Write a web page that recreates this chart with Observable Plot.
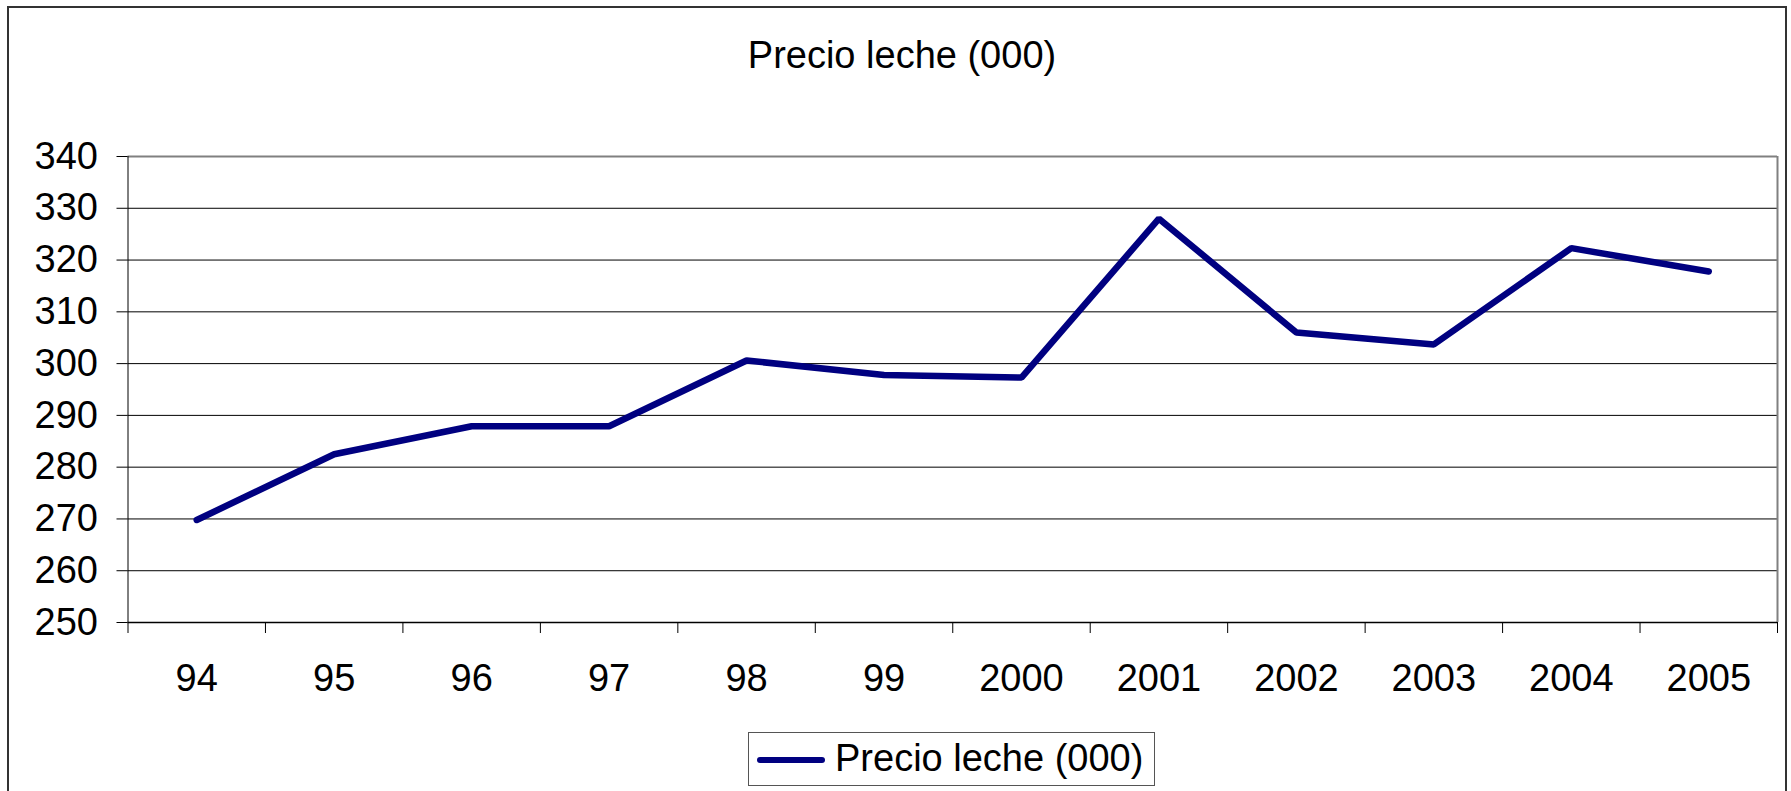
<!DOCTYPE html>
<html>
<head>
<meta charset="utf-8">
<script src="https://cdn.jsdelivr.net/npm/d3@7"></script>
<script src="https://cdn.jsdelivr.net/npm/@observablehq/plot@0.6"></script>
<style>
  html, body { margin: 0; padding: 0; background: #fff; }
  body { width: 1791px; height: 791px; position: relative; overflow: hidden; font-family: "Liberation Sans", Arial, sans-serif; }
  #frame { position: absolute; left: 7px; top: 6px; width: 1780px; height: 900px; border: 2px solid #333; box-sizing: border-box; pointer-events: none; }
  #chart { position: absolute; left: 0; top: 0; }
  #title { position: absolute; left: 600px; width: 604px; top: 36px; text-align: center; font-size: 38px; line-height: 38px; color: #000; white-space: nowrap; }
  #legend { position: absolute; left: 748px; top: 732px; width: 407px; height: 54px; border: 1.5px solid #555; box-sizing: border-box; background: #fff; }
  #legend .sw { position: absolute; left: 8px; top: 24px; width: 68px; height: 6px; border-radius: 3px; background: #000080; }
  #legend .lb { position: absolute; left: 86px; top: 6px; font-size: 38px; line-height: 38px; color: #000; white-space: nowrap; }
</style>
</head>
<body>
<div id="chart"></div>
<div id="title"></div>
<div id="legend"><div class="sw"></div><div class="lb"></div></div>
<div id="frame"></div>
<script>
const titleText = "Precio leche (000)";
const seriesName = "Precio leche (000)";
const categories = ["94", "95", "96", "97", "98", "99", "2000", "2001", "2002", "2003", "2004", "2005"];
const values = [269.8, 282.5, 287.9, 287.9, 300.6, 297.8, 297.3, 328.0, 306.0, 303.7, 322.3, 317.8];
const yTicks = [250, 260, 270, 280, 290, 300, 310, 320, 330, 340];

const data = categories.map((c, i) => ({i, c, v: values[i]}));
const centers = categories.map((c, i) => i);
const boundaries = categories.map((c, i) => i - 0.5).concat([categories.length - 0.5]);
const yMin = yTicks[0], yMax = yTicks[yTicks.length - 1];
const xMin = -0.5, xMax = categories.length - 0.5;

document.getElementById("title").textContent = titleText;
document.querySelector("#legend .lb").textContent = seriesName;

const chart = Plot.plot({
  width: 1791,
  height: 791,
  marginLeft: 127.5,
  marginRight: 14,
  marginTop: 156,
  marginBottom: 169,
  style: { fontFamily: "'Liberation Sans', Arial, sans-serif", background: "transparent", color: "#000" },
  x: { type: "linear", domain: [xMin, xMax] },
  y: { type: "linear", domain: [yMin, yMax] },
  marks: [
    Plot.ruleY(yTicks.filter(v => v !== yMin && v !== yMax), { stroke: "#000", strokeWidth: 1 }),
    Plot.ruleY([yMax], { stroke: "#808080", strokeWidth: 2 }),
    Plot.ruleX([xMax], { stroke: "#808080", strokeWidth: 2 }),
    Plot.ruleX([xMin], { stroke: "#000", strokeWidth: 1 }),
    Plot.ruleY([yMin], { stroke: "#000", strokeWidth: 1.5 }),
    Plot.axisY({ ticks: yTicks, tickSize: 11, tickPadding: 19, fontSize: 38, tickFormat: d => String(d), label: null }),
    Plot.axisX({ ticks: boundaries, tickSize: 11, tickFormat: () => "", label: null }),
    Plot.axisX({ ticks: centers, tickSize: 0, tickPadding: 42, fontSize: 38, tickFormat: i => categories[i], label: null }),
    Plot.line(data, { x: "i", y: "v", stroke: "#000080", strokeWidth: 6.5, strokeLinejoin: "miter", strokeLinecap: "round" })
  ]
});
document.getElementById("chart").appendChild(chart);
</script>
</body>
</html>
